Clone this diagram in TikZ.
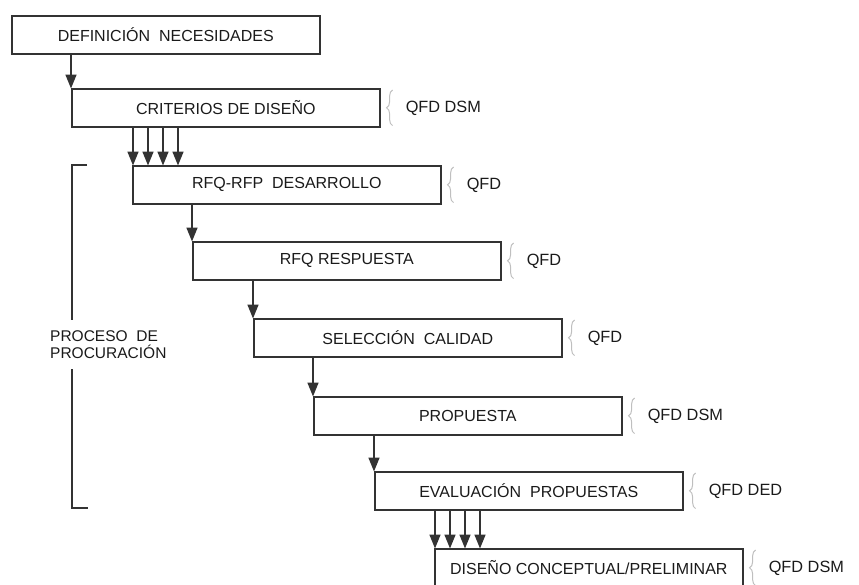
\documentclass[tikz,border=0pt]{standalone}
\usepackage{fontspec}
\setmainfont{Liberation Sans}
\usetikzlibrary{arrows.meta,decorations.pathreplacing,calc}
\definecolor{ink}{HTML}{333333}
\definecolor{txt}{HTML}{1A1A1A}
\begin{document}
\begin{tikzpicture}[x=1pt,y=-1pt,
  stage/.style={draw=ink, line width=1.6pt, minimum width=308pt, minimum height=38pt,
    anchor=north west, inner sep=0pt, font=\fontsize{16}{18}\selectfont, text=txt},
  arr/.style={draw=ink, line width=1.6pt, -{Triangle[width=11pt,length=14pt]}, shorten >=-0.5pt},
  cbrace/.style={draw=gray!50, line width=1pt, decorate, decoration={brace, amplitude=6pt}},
  qfd/.style={anchor=west, inner sep=0pt, font=\fontsize{16.3}{18}\selectfont, text=txt},
  bracket/.style={draw=ink, line width=1.3pt}]
\useasboundingbox (0,0) rectangle (859,584);
\clip (0,0) rectangle (859,584);
\node[stage] (b1) at (11,15) {DEFINICIÓN\ \ NECESIDADES};
\node[stage] (b2) at (71,88) {CRITERIOS DE DISEÑO};
\node[stage] (b3) at (132,165) {RFQ-RFP\ \ DESARROLLO};
\node[stage] (b4) at (192,241) {RFQ RESPUESTA};
\node[stage] (b5) at (253,318) {SELECCIÓN\ \ CALIDAD};
\node[stage] (b6) at (313,396) {PROPUESTA};
\node[stage] (b7) at (374,471) {EVALUACIÓN\ \ PROPUESTAS};
\node[stage] (b8) at (434,548) {DISEÑO CONCEPTUAL/PRELIMINAR};
% single arrows
\draw[arr] (b2.north west |- b1.south) -- (b2.north west);
\draw[arr] (b4.north west |- b3.south) -- (b4.north west);
\draw[arr] (b5.north west |- b4.south) -- (b5.north west);
\draw[arr] (b6.north west |- b5.south) -- (b6.north west);
\draw[arr] (b7.north west |- b6.south) -- (b7.north west);
% quadruple arrows
\foreach \k in {1,16,31,46}{
  \draw[arr] ([xshift=\k pt]b3.north west |- b2.south) -- ([xshift=\k pt]b3.north west);
  \draw[arr] ([xshift=\k pt]b8.north west |- b7.south) -- ([xshift=\k pt]b8.north west);
}
% braces and labels
\foreach \b/\t in {b2/QFD DSM, b3/QFD, b4/QFD, b5/QFD, b6/QFD DSM, b7/QFD DED, b8/QFD DSM}{
  \draw[cbrace] ([xshift=12pt,yshift=2pt]\b.south east) -- ([xshift=12pt,yshift=-2pt]\b.north east);
  \node[qfd] (\b q) at ([xshift=25pt,yshift=-1pt]\b.east) {\t};
}
% procurement bracket
\node[anchor=west, align=left, inner sep=0pt, font=\fontsize{15.5}{17}\selectfont, text=txt] (proc) at (50,345) {PROCESO\ \ DE\\PROCURACIÓN};
\coordinate (bt) at (72,165);
\coordinate (bb) at (72,508);
\draw[bracket] ([xshift=15pt]bt) -- (bt) -- (bt |- 0,320);
\draw[bracket] (bb |- 0,369) -- (bb) -- ([xshift=16pt]bb);
\end{tikzpicture}
\end{document}
